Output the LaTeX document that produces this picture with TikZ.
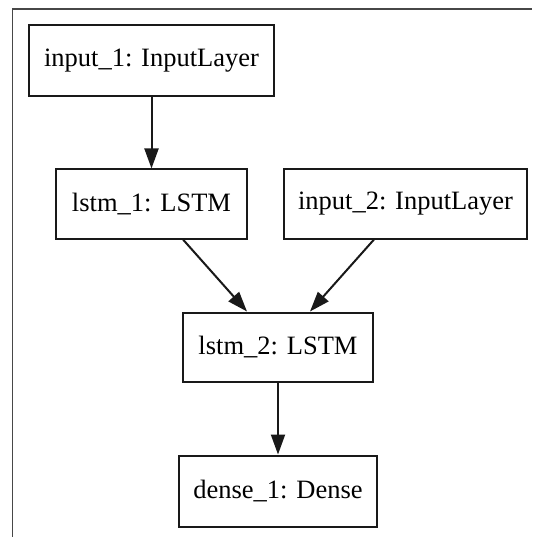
\documentclass[tikz,border=0pt]{standalone}
\usepackage{fontspec}
\setmainfont{Liberation Serif}
\usetikzlibrary{arrows.meta}
\begin{document}
\begin{tikzpicture}[x=1pt,y=-1pt,
  layer/.style={draw=black!90, line width=2pt, rectangle, inner sep=0pt, fill=white,
    font=\fontsize{26.5}{30}\selectfont, anchor=center},
  arr/.style={line width=2pt, draw=black!90, -{Triangle[length=20pt,width=14pt]}}]
\useasboundingbox (0,0) rectangle (532,537);
\fill[white] (0,0) rectangle (532,537);
\draw[line width=1.8pt, draw=black!72] (12.5,537) -- (12.5,9) -- (532,9);
\node[layer, minimum width=245pt, minimum height=71pt] (in1) at (151.5,61) {input\_1: InputLayer};
\node[layer, minimum width=191pt, minimum height=69pt] (l1) at (151.5,204) {lstm\_1: LSTM};
\node[layer, minimum width=243pt, minimum height=69pt] (in2) at (405.5,204) {input\_2: InputLayer};
\node[layer, minimum width=190pt, minimum height=69pt] (l2) at (278,347) {lstm\_2: LSTM};
\node[layer, minimum width=198pt, minimum height=71pt] (d1) at (278,491) {dense\_1: Dense};
\draw[arr] (in1.south) -- (l1.north);
\draw[arr] ([xshift=31.5pt]l1.south) -- ([xshift=-31pt]l2.north);
\draw[arr] ([xshift=-31.5pt]in2.south) -- ([xshift=32pt]l2.north);
\draw[arr] (l2.south) -- (d1.north);
\end{tikzpicture}
\end{document}
